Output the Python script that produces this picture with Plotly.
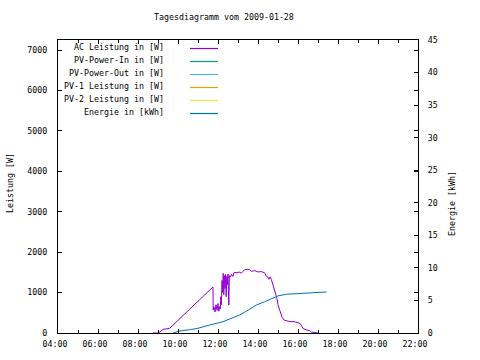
import plotly.graph_objects as go

# ---- data ----
ac_hours = [8.75, 9.0, 9.08, 9.17, 9.25, 9.58, 11.08, 11.75, 11.76, 11.8, 11.85, 11.9, 11.95,
            12.0, 12.04, 12.08, 12.12, 12.14, 12.17, 12.2, 12.23, 12.26, 12.29, 12.32, 12.35,
            12.38, 12.41, 12.44, 12.47, 12.5, 12.54, 12.57, 12.62, 12.68, 12.75, 12.8, 12.95,
            13.05, 13.17, 13.33, 13.58, 13.67, 13.85, 14.0, 14.15, 14.33, 14.42, 14.5, 14.55,
            14.6, 14.67, 14.75, 14.82, 14.88, 14.95, 15.0, 15.1, 15.2, 15.3, 15.42, 15.6, 15.8,
            15.98, 16.1, 16.17, 16.25, 16.4, 16.58, 16.67, 16.9, 17.0]
ac_watts = [0, 0, 20, 50, 90, 115, 815, 1140, 570, 650, 520, 700, 560,
            730, 540, 650, 600, 900, 700, 1300, 1000, 1475, 950, 1420, 1100,
            1450, 900, 1400, 1200, 1460, 690, 1420, 1380, 1450, 1400, 1500, 1490,
            1510, 1480, 1570, 1570, 1530, 1540, 1510, 1520, 1490, 1400, 1380, 1330,
            1390, 1320, 1180, 1100, 1000, 850, 700, 520, 390, 320, 300, 280, 280,
            250, 240, 190, 110, 80, 60, 25, 15, 0]

energy_hours = [9.75, 10.08, 10.58, 11.0, 11.58, 12.25, 12.5, 13.08, 13.5, 13.92, 14.33, 14.75,
                15.0, 15.42, 16.08, 17.0, 17.42]
energy_kwh = [0, 0.3, 0.5, 0.72, 1.23, 1.73, 2.05, 2.76, 3.5, 4.3, 4.8, 5.4, 5.7, 5.95, 6.1,
              6.2, 6.3]

tick_hours = [4, 6, 8, 10, 12, 14, 16, 18, 20, 22]
tick_labels = ["04:00", "06:00", "08:00", "10:00", "12:00", "14:00", "16:00", "18:00", "20:00", "22:00"]

legend_names = ["AC Leistung in [W]", "PV-Power-In in [W]", "PV-Power-Out in [W]",
                "PV-1 Leistung in [W]", "PV-2 Leistung in [W]", "Energie in [kWh]"]
legend_colors = ["#9400d3", "#009e73", "#56b4e9", "#e69f00", "#f0e442", "#0072b2"]

title_text = "Tagesdiagramm vom 2009-01-28"

# ---- layout geometry ----
W, H = 480, 360
L, R, T, B = 58, 62, 40, 27
PW, PH = W - L - R, H - T - B
FONT = "DejaVu Sans Mono"
FS = 8.3


def px(x):
    return (x - L) / PW


def py(y):
    return (H - B - y) / PH


fig = go.Figure()
fig.add_trace(go.Scatter(x=ac_hours, y=ac_watts, mode="lines",
                         line=dict(color=legend_colors[0], width=1), showlegend=False))
fig.add_trace(go.Scatter(x=energy_hours, y=energy_kwh, mode="lines", yaxis="y2",
                         line=dict(color=legend_colors[5], width=1), showlegend=False))

annotations = [
    dict(text=title_text, x=px(223.5), y=py(17), xref="paper", yref="paper",
         showarrow=False, xanchor="center", yanchor="middle", font=dict(size=FS)),
    dict(text="Leistung [W]", x=px(10), y=py(183), xref="paper", yref="paper",
         showarrow=False, textangle=-90, xanchor="center", yanchor="middle", font=dict(size=FS)),
    dict(text="Energie [kWh]", x=px(452), y=py(204), xref="paper", yref="paper",
         showarrow=False, textangle=-90, xanchor="center", yanchor="middle", font=dict(size=FS)),
]
shapes = []
for i, (name, col) in enumerate(zip(legend_names, legend_colors)):
    ty = 47 + 13 * i
    annotations.append(dict(text=name, x=px(166), y=py(ty), xref="paper", yref="paper",
                            showarrow=False, xanchor="right", yanchor="middle",
                            font=dict(size=FS)))
    shapes.append(dict(type="line", xref="paper", yref="paper", x0=px(190), x1=px(218),
                       y0=py(ty + 1.5), y1=py(ty + 1.5), line=dict(color=col, width=1.2)))

axis_common = dict(showgrid=False, zeroline=False, showline=True, linecolor="black",
                   linewidth=1, ticks="inside", tickcolor="black", ticklen=4,
                   tickfont=dict(size=FS, color="black"))

fig.update_layout(
    width=W, height=H,
    margin=dict(l=L, r=R, t=T, b=B, pad=0),
    paper_bgcolor="white", plot_bgcolor="white",
    font=dict(family=FONT, size=FS, color="black"),
    showlegend=False,
    hovermode=False,
    xaxis=dict(range=[4, 22], tickvals=tick_hours, ticktext=tick_labels, mirror="ticks",
               minor=dict(ticks="inside", dtick=1, ticklen=3, tickcolor="black"),
               ticklabelstandoff=3, ticklabelshift=-3,
               **axis_common),
    yaxis=dict(range=[0, 7250], tickvals=[0, 1000, 2000, 3000, 4000, 5000, 6000, 7000],
               mirror="ticks", ticklabelstandoff=8, **axis_common),
    yaxis2=dict(range=[0, 45], tickvals=[0, 5, 10, 15, 20, 25, 30, 35, 40, 45],
                overlaying="y", side="right", ticklabelstandoff=7, **axis_common),
    annotations=annotations,
    shapes=shapes,
)

fig.write_html("out.html", config={"displayModeBar": False, "staticPlot": True},
               post_script="document.body.style.margin='0';document.body.style.padding='0';")
